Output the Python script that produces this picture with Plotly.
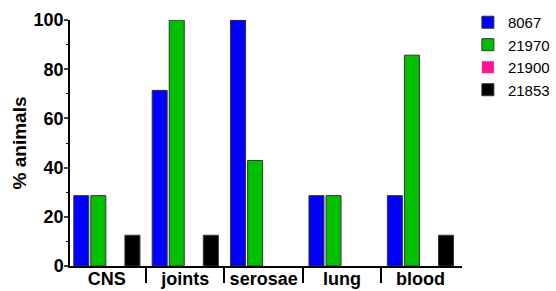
import plotly.graph_objects as go

categories = ["CNS", "joints", "serosae", "lung", "blood"]
series_names = ["8067", "21970", "21900", "21853"]
s8067 = [28.6, 71.4, 100, 28.6, 28.6]
s21970 = [28.6, 100, 42.9, 28.6, 85.7]
s21900 = [0, 0, 0, 0, 0]
s21853 = [12.5, 12.5, 0, 0, 12.5]
colors = ["#0000ff", "#00c000", "#ff1493", "#000000"]
yticks = [0, 20, 40, 60, 80, 100]

xs = list(range(len(categories)))
fig = go.Figure()
for name, vals, c in zip(series_names, [s8067, s21970, s21900, s21853], colors):
    fig.add_trace(go.Bar(
        x=xs, y=vals, name=name,
        marker=dict(color=c, line=dict(color="#333333", width=[1 if v > 0 else 0 for v in vals]))))

ff = "Liberation Sans, Arial"
bold = dict(family=ff, size=18, color="black", weight="bold")
fig.update_layout(
    width=556, height=291,
    margin=dict(l=70, r=94, t=20, b=25, autoexpand=False),
    plot_bgcolor="white", paper_bgcolor="white",
    barmode="group", bargap=0.13, bargroupgap=0.12,
    showlegend=True,
    legend=dict(x=1.015, y=1.057, xanchor="left", yanchor="top",
                font=dict(family=ff, size=15, color="black"),
                tracegroupgap=0, itemwidth=30),
    xaxis=dict(range=[-0.47, 4.53], tickvals=xs, ticktext=categories, ticks="",
               showline=True, linecolor="black", linewidth=1.5, tickfont=bold,
               showgrid=False, zeroline=False, automargin=False, ticklabelstandoff=-4,
               minor=dict(tickvals=[0.5, 1.5, 2.5, 3.5], ticks="outside", ticklen=15,
                          tickwidth=2, tickcolor="black", showgrid=False)),
    yaxis=dict(range=[0, 100], tickvals=yticks, ticks="outside", ticklen=4, tickwidth=1.5,
               showline=True, linecolor="black", linewidth=1.5, tickfont=bold,
               showgrid=False, zeroline=False, automargin=False, ticklabelstandoff=-3,
               title=dict(text="% animals", font=dict(family=ff, size=19, color="black", weight="bold"), standoff=2),
               minor=dict(tickvals=[10, 30, 50, 70, 90], ticks="outside", ticklen=2.5,
                          tickwidth=1, tickcolor="black", showgrid=False)),
)
fig.write_html("out.html", config={"displayModeBar": False},
               post_script="document.body.style.margin='0px';")
